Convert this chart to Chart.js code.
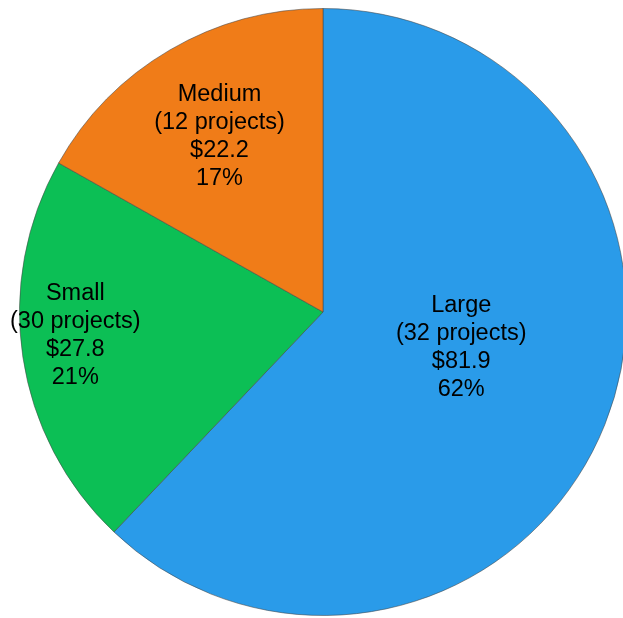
<!DOCTYPE html>
<html>
<head>
<meta charset="utf-8">
<script src="https://cdn.jsdelivr.net/npm/chart.js@4"></script>
<style>
    html, body { margin: 0; padding: 0; background: #fff; overflow: hidden; }
    body { width: 623px; height: 618px; position: relative; }
    #pie { position: absolute; left: 0; top: 0; }
</style>
</head>
<body>
<canvas id="pie" width="646" height="618"></canvas>
<script>
// pie data
const sizes = ["Large", "Small", "Medium"];
const projectCounts = [32, 30, 12];
const amounts = [81.9, 27.8, 22.2];
const sliceColors = ["#2a9be9", "#0cbf55", "#f07c18"];

const total = amounts.reduce((a, b) => a + b, 0);

// label placement per slice: fraction of radius + angle shift (deg)
const labelPlace = [
    { r: 0.47, da: -7.5 },
    { r: 0.82, da: 3.0 },
    { r: 0.67, da: -0.3 },
];

function shade(ctx) {
    const chart = ctx.chart;
    const base = sliceColors[ctx.dataIndex];
    if (!chart.chartArea) return base;
    const arc = chart.getDatasetMeta(0).data[ctx.dataIndex];
    if (!arc || !arc.outerRadius) return base;
    const g = chart.ctx.createRadialGradient(arc.x, arc.y, 0, arc.x, arc.y, arc.outerRadius);
    g.addColorStop(0, base);
    g.addColorStop(0.95, base);
    g.addColorStop(0.985, Chart.helpers.color(base).lighten(0.12).rgbString());
    g.addColorStop(1, Chart.helpers.color(base).darken(0.15).rgbString());
    return g;
}

const sliceLabels = {
    id: "sliceLabels",
    afterDatasetsDraw(chart) {
        const ctx = chart.ctx;
        const meta = chart.getDatasetMeta(0);
        ctx.save();
        ctx.font = "23.5px 'Liberation Sans', Arial, sans-serif";
        ctx.fillStyle = "#000";
        ctx.textAlign = "center";
        ctx.textBaseline = "middle";
        meta.data.forEach(function (arc, i) {
            const mid = (arc.startAngle + arc.endAngle) / 2 + labelPlace[i].da * Math.PI / 180;
            const r = arc.outerRadius * labelPlace[i].r;
            const x = arc.x + Math.cos(mid) * r;
            const y = arc.y + Math.sin(mid) * r;
            const lines = [
                sizes[i],
                "(" + projectCounts[i] + " projects)",
                "$" + amounts[i].toFixed(1),
                Math.round(amounts[i] / total * 100) + "%",
            ];
            const lh = 28;
            lines.forEach(function (t, k) {
                ctx.fillText(t, x, y + (k - 1.5) * lh);
            });
        });
        ctx.restore();
    },
};

new Chart(document.getElementById("pie"), {
    type: "pie",
    data: {
        labels: sizes,
        datasets: [
            {
                data: amounts,
                backgroundColor: shade,
                borderColor: "rgba(70, 70, 70, 0.55)",
                borderWidth: 1,
                hoverOffset: 0,
                offset: 0,
            },
        ],
    },
    options: {
        responsive: false,
        animation: false,
        layout: { padding: { left: 19, right: 19, top: 8, bottom: 2 } },
        plugins: {
            legend: { display: false },
            tooltip: { enabled: false },
        },
    },
    plugins: [sliceLabels],
});
</script>
</body>
</html>
